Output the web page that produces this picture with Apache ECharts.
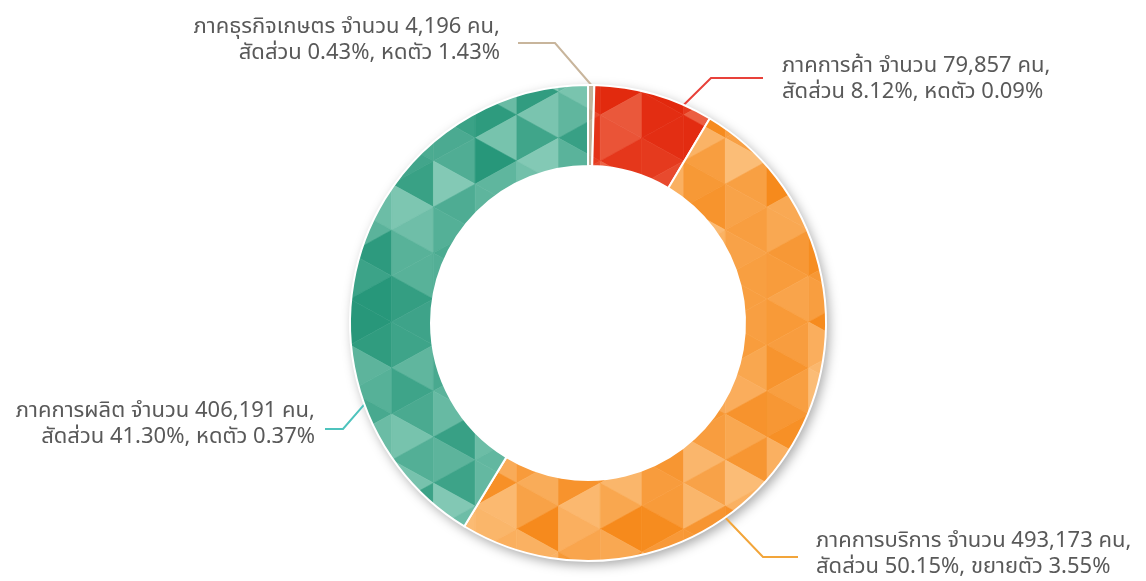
<!DOCTYPE html>
<html lang="th">
  <head>
    <meta charset="UTF-8" />
    <script src="https://cdn.jsdelivr.net/npm/echarts@6/dist/echarts.min.js"></script>
    <title>Sector donut</title>
    <style>
      body { margin: 0; background: #fff; }
    </style>
  </head>
  <body>
    <div id="container" style="width: 1146px; height: 581px;"></div>

    <script>
      // data
      const sectors = ["ภาคธุรกิจเกษตร", "ภาคการค้า", "ภาคการบริการ", "ภาคการผลิต"];
      const workers = [4196, 79857, 493173, 406191];
      const shares = ["0.43", "8.12", "50.15", "41.30"];
      const growthWord = ["หดตัว", "หดตัว", "ขยายตัว", "หดตัว"];
      const growthPct = ["1.43", "0.09", "3.55", "0.37"];

      // colours: [dark, light] for the triangle texture, plus the label line colour
      const sliceColors = [
        ["#b8a98f", "#cfc3ad"],
        ["#e2270c", "#f07a5c"],
        ["#f68a1c", "#fdd09a"],
        ["#27977a", "#a6dccb"],
      ];
      const lineColors = ["#c8b59c", "#e8413a", "#f2a53a", "#4ec3bd"];

      // ring geometry and label placement
      const CX = 588, CY = 323, R_IN = 157, R_OUT = 238;
      const labelPos = [
        { x: 500, y: 42, align: "right", anchorDeg: 0.8, bendX: 555, endX: 518, lineY: 43 },
        { x: 782, y: 81, align: "left", anchorDeg: 23.7, bendX: 711, endX: 763, lineY: 78 },
        { x: 816, y: 556, align: "left", anchorDeg: 144.8, bendX: 763, endX: 798, lineY: 557 },
        { x: 315, y: 426, align: "right", anchorDeg: 250, bendX: 343, endX: 325, lineY: 429 },
      ];

      const myChart = echarts.init(document.getElementById("container"));

      // low-poly triangle texture, shades picked by a fixed hash
      function hash(a, b, c) {
        const s = Math.sin(a * 12.9898 + b * 78.233 + c * 37.719) * 43758.5453;
        return s - Math.floor(s);
      }
      function mix(c1, c2, t) {
        const p = (c) => [1, 3, 5].map((i) => parseInt(c.substr(i, 2), 16));
        const a = p(c1), b = p(c2);
        return "rgb(" + a.map((v, i) => Math.round(v + (b[i] - v) * t)).join(",") + ")";
      }
      function makeTexture(dark, light, seed) {
        const W = 1146, H = 581, w = 41.7, h = 46;
        const cv = document.createElement("canvas");
        cv.width = W;
        cv.height = H;
        const ctx = cv.getContext("2d");
        const x0 = 350 - 9 * w;
        for (let i = 0; x0 + i * w < W; i++) {
          const o = (i % 2) * h / 2 - h;
          const xl = x0 + i * w, xr = xl + w;
          for (let j = 0; o + j * h < H + h; j++) {
            const tris = [
              [[xl, o + j * h], [xl, o + (j + 1) * h], [xr, o + (j + 0.5) * h]],
              [[xr, o + (j + 0.5) * h], [xr, o + (j + 1.5) * h], [xl, o + (j + 1) * h]],
            ];
            tris.forEach((t, k) => {
              const col = mix(dark, light, Math.pow(hash(i + seed, j, k), 1.4) * 0.75);
              ctx.beginPath();
              ctx.moveTo(t[0][0], t[0][1]);
              ctx.lineTo(t[1][0], t[1][1]);
              ctx.lineTo(t[2][0], t[2][1]);
              ctx.closePath();
              ctx.fillStyle = col;
              ctx.fill();
              ctx.strokeStyle = col;
              ctx.lineWidth = 0.6;
              ctx.stroke();
            });
          }
        }
        return cv;
      }

      const pieData = sectors.map((name, i) => ({
        name: name,
        value: workers[i],
        itemStyle: {
          color: { image: makeTexture(sliceColors[i][0], sliceColors[i][1], i * 7), repeat: "no-repeat" },
        },
        labelLine: { lineStyle: { color: lineColors[i] } },
      }));

      const option = {
        animation: false,
        graphic: [
          {
            type: "circle",
            z: 0,
            shape: { cx: CX, cy: CY, r: R_OUT },
            style: {
              fill: "#fff",
              shadowBlur: 12,
              shadowColor: "rgba(0,0,0,0.35)",
              shadowOffsetX: 3,
              shadowOffsetY: 4,
            },
          },
        ],
        series: [
          {
            type: "pie",
            center: [CX, CY],
            radius: [R_IN, R_OUT],
            startAngle: 90,
            clockwise: true,
            avoidLabelOverlap: false,
            data: pieData,
            itemStyle: { borderColor: "#fff", borderWidth: 2 },
            emphasis: { disabled: true },
            label: {
              show: true,
              position: "outside",
              color: "#595959",
              fontSize: 22,
              lineHeight: 26,
              fontFamily: "Tahoma, 'Noto Sans Thai', Loma, Garuda, 'Noto Sans', sans-serif",
              formatter: (p) => {
                const i = p.dataIndex;
                return (
                  sectors[i] + " จำนวน " + workers[i].toLocaleString("en-US") + " คน,\n" +
                  "สัดส่วน " + shares[i] + "%, " + growthWord[i] + " " + growthPct[i] + "%"
                );
              },
            },
            labelLine: { show: true, length: 20, length2: 30, lineStyle: { width: 2 } },
            labelLayout: (params) => {
              const L = labelPos[params.dataIndex];
              const a = (L.anchorDeg * Math.PI) / 180;
              const ax = CX + R_OUT * Math.sin(a);
              const ay = CY - R_OUT * Math.cos(a);
              return {
                x: L.x,
                y: L.y,
                align: L.align,
                verticalAlign: "middle",
                labelLinePoints: [[ax, ay], [L.bendX, L.lineY], [L.endX, L.lineY]],
              };
            },
          },
        ],
      };

      myChart.setOption(option);
    </script>
  </body>
</html>
